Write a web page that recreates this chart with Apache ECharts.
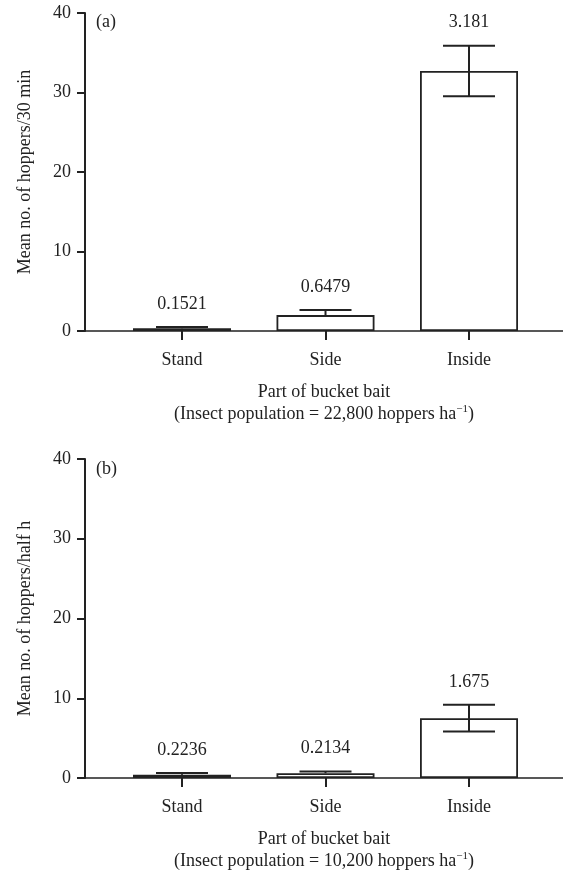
<!DOCTYPE html>
<html>
<head>
<meta charset="utf-8">
<script src="https://cdn.jsdelivr.net/npm/echarts@6/dist/echarts.min.js"></script>
<style>
  html, body { margin: 0; padding: 0; background: #fff; }
  #chart { width: 563px; height: 878px; }
</style>
</head>
<body>
<div id="chart"></div>
<script>
var categories = ['Stand', 'Side', 'Inside'];
var catPos = [0, 1, 2];
var yTicks = [0, 10, 20, 30, 40];

// panel (a)
var meansA = [0.35, 2.0, 32.7];
var seA = [0.1521, 0.6479, 3.181];
var lowerA = [false, false, true];

// panel (b)
var meansB = [0.4, 0.6, 7.5];
var seB = [0.2236, 0.2134, 1.675];
var lowerB = [false, false, true];

var ink = '#222';
var font = '"Liberation Serif", "Times New Roman", serif';
var fs = 18;

function xAxisFor(grid, pop) {
    return {
        type: 'value',
        gridIndex: grid,
        min: -0.676,
        max: 2.655,
        splitLine: { show: false },
        axisLine: { show: true, lineStyle: { color: ink, width: 1.5 } },
        axisTick: { show: true, customValues: catPos, length: 9, lineStyle: { color: ink, width: 2 } },
        axisLabel: {
            customValues: catPos,
            formatter: function (v) { return categories[Math.round(v)]; },
            margin: 20, fontSize: fs, color: ink, fontFamily: font
        },
        name: 'Part of bucket bait\n(Insect population = ' + pop + ' hoppers ha{sup|\u22121})',
        nameLocation: 'middle',
        nameGap: 50,
        nameTextStyle: {
            fontSize: fs, color: ink, fontFamily: font, lineHeight: 22,
            rich: { sup: { fontSize: 11, color: ink, fontFamily: font, padding: [0, 0, 9, 0] } }
        }
    };
}

function yAxisFor(grid, label) {
    return {
        type: 'value',
        gridIndex: grid,
        min: yTicks[0],
        max: yTicks[yTicks.length - 1],
        interval: 10,
        splitLine: { show: false },
        axisLine: { show: true, onZero: false, lineStyle: { color: ink, width: 2 } },
        axisTick: { show: true, length: 8, lineStyle: { color: ink, width: 2 } },
        axisLabel: { margin: 14, fontSize: fs, color: ink, fontFamily: font },
        name: label,
        nameLocation: 'middle',
        nameRotate: 90,
        nameGap: 51,
        nameTextStyle: { fontSize: fs, color: ink, fontFamily: font }
    };
}

function barSeries(idx, means) {
    return {
        type: 'bar',
        xAxisIndex: idx,
        yAxisIndex: idx,
        barWidth: 98,
        data: means.map(function (m, i) { return [catPos[i], m]; }),
        itemStyle: { color: '#fff', borderColor: ink, borderWidth: 1.8 },
        silent: true
    };
}

function errSeries(idx, means, se, lower) {
    return {
        type: 'custom',
        xAxisIndex: idx,
        yAxisIndex: idx,
        data: means.map(function (m, i) { return [catPos[i], m, se[i], lower[i] ? 1 : 0]; }),
        renderItem: function (params, api) {
            var x = api.value(0), m = api.value(1), s = api.value(2), low = api.value(3);
            var top = api.coord([x, m + s]);
            var mid = api.coord([x, m]);
            var bot = low ? api.coord([x, m - s]) : mid;
            var hw = 26;
            var st = { stroke: ink, lineWidth: 2 };
            var kids = [
                { type: 'line', shape: { x1: top[0], y1: top[1], x2: bot[0], y2: bot[1] }, style: st },
                { type: 'line', shape: { x1: top[0] - hw, y1: top[1], x2: top[0] + hw, y2: top[1] }, style: st },
                {
                    type: 'text',
                    style: {
                        x: top[0], y: top[1] - 23, text: String(s),
                        align: 'center', verticalAlign: 'middle',
                        fontSize: fs, fontFamily: font, fill: ink
                    }
                }
            ];
            if (low) {
                kids.push({ type: 'line', shape: { x1: bot[0] - hw, y1: bot[1], x2: bot[0] + hw, y2: bot[1] }, style: st });
            }
            return { type: 'group', children: kids };
        },
        z: 5,
        silent: true
    };
}

var chart = echarts.init(document.getElementById('chart'));
var option = {
    animation: false,
    backgroundColor: '#fff',
    title: [
        { text: '(a)', left: 91, top: 8, textStyle: { fontSize: fs, fontWeight: 'normal', color: ink, fontFamily: font } },
        { text: '(b)', left: 91, top: 455, textStyle: { fontSize: fs, fontWeight: 'normal', color: ink, fontFamily: font } }
    ],
    grid: [
        { left: 85, right: 0, top: 13, height: 318 },
        { left: 85, right: 0, top: 459, height: 319 }
    ],
    xAxis: [xAxisFor(0, '22,800'), xAxisFor(1, '10,200')],
    yAxis: [yAxisFor(0, 'Mean no. of hoppers/30 min'), yAxisFor(1, 'Mean no. of hoppers/half h')],
    series: [
        barSeries(0, meansA),
        errSeries(0, meansA, seA, lowerA),
        barSeries(1, meansB),
        errSeries(1, meansB, seB, lowerB)
    ]
};
chart.setOption(option);
window.onresize = chart.resize;
</script>
</body>
</html>
